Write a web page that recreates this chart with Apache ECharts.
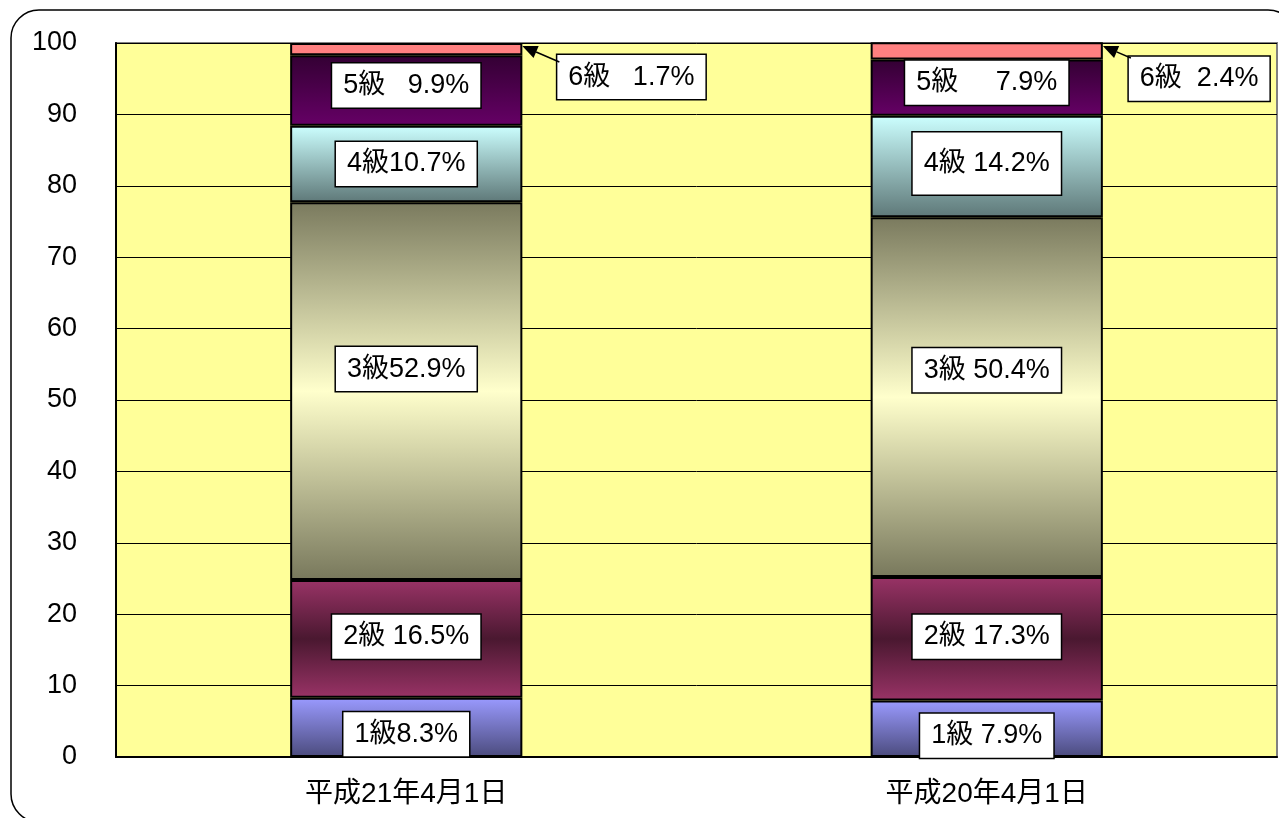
<!DOCTYPE html>
<html><head><meta charset="utf-8">
<script src="https://cdn.jsdelivr.net/npm/echarts@6/dist/echarts.min.js"></script>
<style>html,body{margin:0;padding:0;background:#fff}#chart{width:1279px;height:818px}</style>
</head><body><div id="chart"></div>
<script>
// ---- data ----
const categories = ['平成21年4月1日', '平成20年4月1日'];
const grades = ['1級', '2級', '3級', '4級', '5級', '6級'];
const grade1 = [8.3, 7.9];
const grade2 = [16.5, 17.3];
const grade3 = [52.9, 50.4];
const grade4 = [10.7, 14.2];
const grade5 = [9.9, 7.9];
const grade6 = [1.7, 2.4];
// spaces between grade name and value inside each label, per grade, per category
const labelGaps = [[0, 1], [1, 1], [0, 1], [0, 1], [3, 5], [3, 2]];

// ---- styling ----
const FONT = "'Liberation Sans', Arial, 'Noto Sans CJK JP', sans-serif";
const seriesValues = [grade1, grade2, grade3, grade4, grade5, grade6];
function grad(stops) {
  return { type: 'linear', x: 0, y: 0, x2: 0, y2: 1,
    colorStops: stops.map(s => ({ offset: s[0], color: s[1] })) };
}
const fills = [
  grad([[0, '#9a9aff'], [1, '#4b4b7d']]),
  grad([[0, '#993366'], [0.5, '#4a1830'], [1, '#993366']]),
  grad([[0, '#7a7a5e'], [0.5, '#ffffcc'], [1, '#78785c']]),
  grad([[0, '#ccffff'], [1, '#5e7878']]),
  grad([[0, '#330033'], [1, '#660066']]),
  '#ff8080'
];
const labelOffsets = [
  [[0, 7], [0, 7]],
  [[0, -2], [0, -2]],
  [[0, -22], [0, -27]],
  [[0, 0], [0, -3]],
  [[0, -5], [0, -5]],
  [[35, 28], [26, 28]]
];
const labelPads = [
  [[7, 11], [7, 11]],
  [[7, 11], [7, 11]],
  [[7, 11], [7, 11]],
  [[7, 11], [16, 11]],
  [[7, 11], [7, 11]],
  [[7, 11], [7, 11]]
];

const series = seriesValues.map((vals, i) => ({
  name: grades[i],
  type: 'bar',
  stack: 'all',
  barWidth: '40%',
  itemStyle: { color: fills[i], borderColor: '#000', borderWidth: 2 },
  label: {
    show: true,
    position: i === 5 ? 'right' : 'inside',
    distance: 0,
    color: '#000',
    fontFamily: FONT,
    fontSize: 27,
    lineHeight: 30,
    backgroundColor: '#fff',
    borderColor: '#000',
    borderWidth: 1.5,
    formatter: p => grades[i] + ' '.repeat(labelGaps[i][p.dataIndex]) + p.value.toFixed(1) + '%'
  },
  data: vals.map((v, j) => ({ value: v, label: { offset: labelOffsets[i][j], padding: labelPads[i][j] } }))
}));

const frame = {
  type: 'rect', z: -10, silent: true,
  shape: { x: 11, y: 10, width: 1285, height: 812, r: 28 },
  style: { fill: 'none', stroke: '#000', lineWidth: 1.5 }
};

const chart = echarts.init(document.getElementById('chart'));
chart.setOption({
  animation: false,
  backgroundColor: '#fff',
  grid: { left: 116, top: 43, right: 2, bottom: 61, show: true, backgroundColor: '#ffff99',
          borderColor: '#808080', borderWidth: 2 },
  xAxis: {
    type: 'category', data: categories,
    axisLine: { lineStyle: { color: '#000', width: 2 } },
    axisTick: { inside: true, length: 14, lineStyle: { color: '#000' } },
    axisLabel: { color: '#000', fontFamily: FONT, fontSize: 28, margin: 23 }
  },
  yAxis: {
    type: 'value', min: 0, max: 100, interval: 10,
    axisLine: { show: true, lineStyle: { color: '#000', width: 2 } },
    axisTick: { show: true, inside: true, length: 6, lineStyle: { color: '#000' } },
    axisLabel: { color: '#000', fontFamily: FONT, fontSize: 27, margin: 39 },
    splitLine: { lineStyle: { color: '#000', width: 1 } }
  },
  series: series,
  graphic: [frame]
});

// arrows from the 6級 labels to the bar tops
const y100 = chart.convertToPixel({ yAxisIndex: 0 }, 100);
const x0 = chart.convertToPixel({ xAxisIndex: 0 }, 0);
const x1 = chart.convertToPixel({ xAxisIndex: 0 }, 1);
const band = x1 - x0;
const arrowStartDy = [19, 15];
const arrows = [];
[x0, x1].forEach((cx, j) => {
  const barRight = cx + band * 0.4 / 2;
  const tip = [barRight, y100 + 3];
  const start = [barRight + labelOffsets[5][j][0] + 2, y100 + arrowStartDy[j]];
  const dx = start[0] - tip[0], dy = start[1] - tip[1];
  const len = Math.sqrt(dx * dx + dy * dy);
  const ux = dx / len, uy = dy / len;
  const hl = 15, hw = 6.5;
  const base = [tip[0] + ux * hl, tip[1] + uy * hl];
  arrows.push({
    type: 'line', z: 100, silent: true,
    shape: { x1: start[0], y1: start[1], x2: base[0], y2: base[1] },
    style: { stroke: '#000', lineWidth: 1.5 }
  });
  arrows.push({
    type: 'polygon', z: 100, silent: true,
    shape: { points: [tip, [base[0] - uy * hw, base[1] + ux * hw], [base[0] + uy * hw, base[1] - ux * hw]] },
    style: { fill: '#000' }
  });
});
chart.setOption({ graphic: [frame].concat(arrows) });
</script>
</body></html>
